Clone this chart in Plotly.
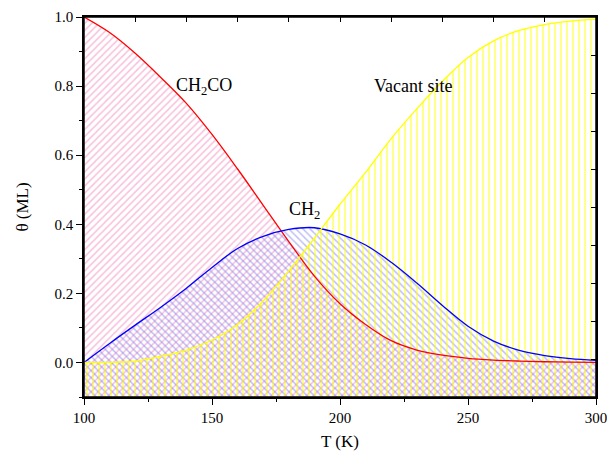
import plotly.graph_objects as go

T = [100, 110, 120, 130, 140, 150, 160, 170, 180, 190, 200,
     210, 220, 230, 240, 250, 260, 270, 280, 290, 300]
ch2co = [1.0, 0.955, 0.895, 0.825, 0.75, 0.66, 0.56, 0.455, 0.35, 0.25, 0.17,
         0.11, 0.063, 0.036, 0.021, 0.012, 0.007, 0.004, 0.002, 0.001, 0.0]
ch2 = [0.0, 0.055, 0.108, 0.16, 0.215, 0.275, 0.33, 0.365, 0.385, 0.39, 0.372,
       0.34, 0.29, 0.23, 0.165, 0.105, 0.062, 0.035, 0.02, 0.011, 0.006]
vacant = [0.0, 0.0, 0.004, 0.018, 0.036, 0.065, 0.11, 0.178, 0.265, 0.36, 0.458,
          0.55, 0.648, 0.734, 0.814, 0.883, 0.931, 0.961, 0.978, 0.988, 0.994]

x_range = [100, 300]
y_range = [-0.1, 1.0]
x_ticks = [100, 150, 200, 250, 300]
y_ticks = [0.0, 0.2, 0.4, 0.6, 0.8, 1.0]

labels = [("CH<sub>2</sub>CO", 147, 0.80),
          ("Vacant site", 228.5, 0.80),
          ("CH<sub>2</sub>", 186.3, 0.44)]

series = [
    (ch2co, "red", "/", "rgba(240,130,185,1)", 0.3, 5),
    (ch2, "blue", "\\", "rgba(130,130,240,1)", 0.3, 5),
    (vacant, "#ffff00", "|", "rgba(255,255,0,1)", 0.3, 6),
]

FONT = "Liberation Serif, Times New Roman, serif"
fig = go.Figure()
base = [y_range[0]] * len(T)
for ys, lc, shp, fc, sol, sz in series:
    fig.add_trace(go.Scatter(x=T, y=base, mode="lines", line=dict(width=0),
                             showlegend=False, hoverinfo="skip"))
    fig.add_trace(go.Scatter(
        x=T, y=ys, mode="lines", line=dict(width=0, shape="spline"),
        fill="tonexty", fillcolor="rgba(0,0,0,0)",
        fillpattern=dict(shape=shp, fgcolor=fc, bgcolor="rgba(0,0,0,0)",
                         size=sz, solidity=sol),
        showlegend=False, hoverinfo="skip"))
for ys, lc, shp, fc, sol, sz in series:
    fig.add_trace(go.Scatter(x=T, y=ys, mode="lines",
                             line=dict(color=lc, width=1.3, shape="spline"),
                             showlegend=False))

# dummy trace to activate the tick-only mirror axes
fig.add_trace(go.Scatter(x=[x_range[0]], y=[y_range[0]], xaxis="x2", yaxis="y2",
                         mode="markers", marker=dict(opacity=0),
                         showlegend=False, hoverinfo="skip"))

for text, xv, yv in labels:
    fig.add_annotation(x=xv, y=yv, text=text, showarrow=False,
                       font=dict(family=FONT, size=18, color="black"))

# plot frame
fig.add_shape(type="rect", xref="paper", yref="paper", x0=0, x1=1, y0=0, y1=1,
              line=dict(color="black", width=1.5), layer="above")

axis_common = dict(showline=True, linecolor="black", linewidth=1.5,
                   showgrid=False, zeroline=False, tickcolor="black",
                   automargin=False, ticklabeloverflow="allow",
                   tickfont=dict(family=FONT, size=15, color="black"))

fig.update_layout(
    width=607, height=451,
    margin=dict(l=84, r=11, t=17, b=54),
    paper_bgcolor="white", plot_bgcolor="white",
    font=dict(family=FONT, color="black"),
    xaxis=dict(range=x_range, tickvals=x_ticks, ticks="outside", ticklen=6,
               tickwidth=1.3, mirror=True,
               minor=dict(dtick=25, tick0=100, ticks="outside", ticklen=3,
                          tickcolor="black", tickwidth=1.2),
               title=dict(text="T (K)", font=dict(family=FONT, size=17),
                          standoff=12),
               **axis_common),
    yaxis=dict(range=y_range, tickvals=y_ticks, ticktext=[f"{v:.1f}" for v in y_ticks],
               ticks="outside", ticklen=6, tickwidth=1.3, mirror=True,
               minor=dict(dtick=0.1, tick0=0, ticks="outside", ticklen=3,
                          tickcolor="black", tickwidth=1.2),
               title=dict(text="θ (ML)", font=dict(family=FONT, size=17),
                          standoff=22),
               **axis_common),
    xaxis2=dict(range=x_range, overlaying="x", side="top", anchor="y",
                ticks="inside", ticklen=5, tickwidth=1.2, dtick=20, tick0=100,
                showticklabels=False, **axis_common),
    yaxis2=dict(range=y_range, overlaying="y", side="right", anchor="x",
                ticks="inside", ticklen=5, tickwidth=1.2, dtick=0.11, tick0=-0.1,
                showticklabels=False, **axis_common),
)

# remove the page's default body margin so the figure fills the window exactly
fig.write_html("out.html", config={"displayModeBar": False},
               post_script="document.body.style.margin='0';document.body.style.overflow='hidden';")
